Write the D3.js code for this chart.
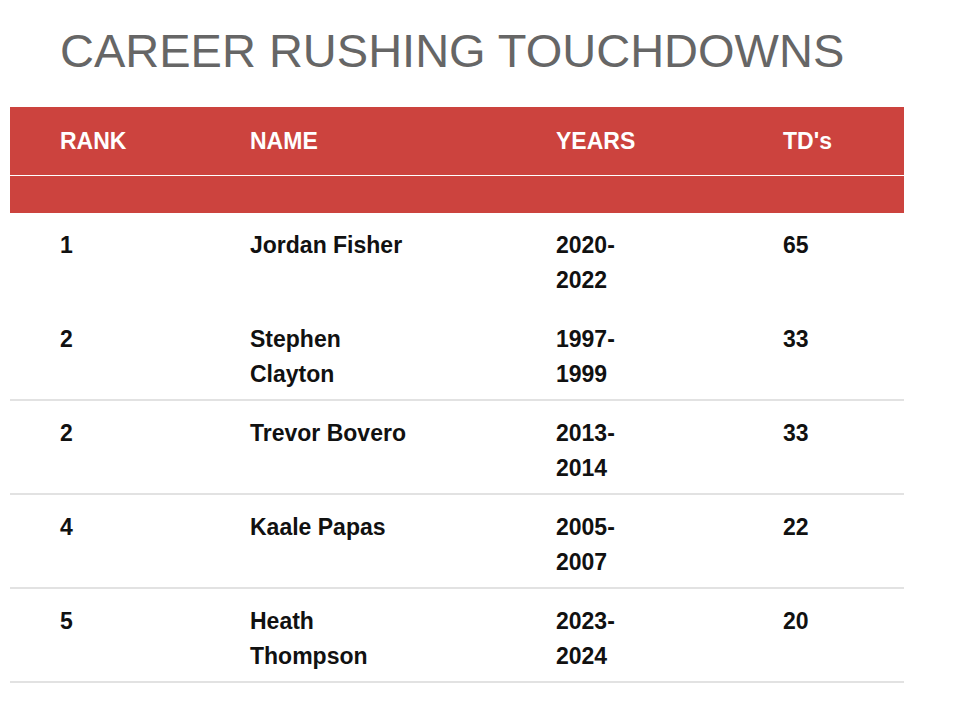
<!DOCTYPE html>
<html><head><meta charset="utf-8">
<script src="https://cdn.jsdelivr.net/npm/d3@7"></script>
<style>body{margin:0;background:#fff}</style>
</head><body><svg id="c" width="960" height="708"></svg>
<script>
const title = "CAREER RUSHING TOUCHDOWNS";
const headers = ["RANK", "NAME", "YEARS", "TD's"];
const ranks = ["1", "2", "2", "4", "5"];
const names = ["Jordan Fisher", "Stephen\nClayton", "Trevor Bovero", "Kaale Papas", "Heath\nThompson"];
const years = ["2020-\n2022", "1997-\n1999", "2013-\n2014", "2005-\n2007", "2023-\n2024"];
const tds = [65, 33, 33, 22, 20];

const svg = d3.select("#c");
const font = "Liberation Sans, Arial, sans-serif";
svg.append("text").attr("x", 60).attr("y", 67).text(title)
  .attr("font-family", font).attr("font-size", 47).attr("fill", "#666");

const left = 10, right = 904;
const colX = d3.scaleOrdinal().domain(headers).range([60, 250, 556, 783]);
svg.append("rect").attr("x", left).attr("y", 107).attr("width", right - left).attr("height", 68).attr("fill", "#cc433e");
svg.append("rect").attr("x", left).attr("y", 176).attr("width", right - left).attr("height", 37).attr("fill", "#cc433e");
headers.forEach(h => svg.append("text").attr("x", colX(h)).attr("y", 149).text(h)
  .attr("font-family", font).attr("font-weight", "bold").attr("font-size", 23).attr("fill", "#fff"));

const rows = ranks.map((r, i) => [r, names[i], years[i], String(tds[i])]);
const rowY = d3.scaleBand().domain(d3.range(rows.length)).range([212, 682]);
rows.forEach((row, i) => {
  const y0 = rowY(i);
  row.forEach((cell, j) => {
    const t = svg.append("text").attr("font-family", font).attr("font-weight", "bold")
      .attr("font-size", 23).attr("fill", "#111");
    cell.split("\n").forEach((ln, k) => t.append("tspan").attr("x", colX(headers[j]))
      .attr("y", y0 + 41 + k * 35).text(ln));
  });
  if (i > 0) svg.append("line").attr("x1", left).attr("x2", right)
    .attr("y1", y0 + rowY.bandwidth()).attr("y2", y0 + rowY.bandwidth())
    .attr("stroke", "#d9d9d9").attr("stroke-width", 1.5);
});
</script></body></html>
